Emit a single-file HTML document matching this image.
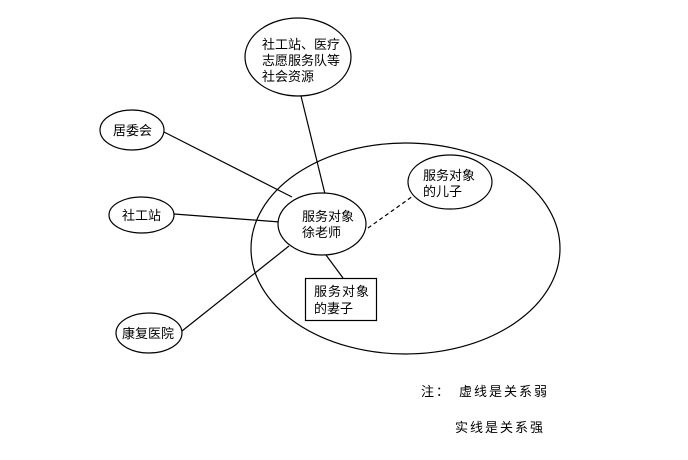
<!DOCTYPE html>
<html><head><meta charset="utf-8"><style>
html,body{margin:0;padding:0;background:#fff;}
svg text{font-family:"Liberation Sans","Noto Sans CJK SC",sans-serif;font-size:13px;fill:#000;}
</style></head><body>
<svg width="688" height="455" xmlns="http://www.w3.org/2000/svg">
<g fill="none" stroke="#000" stroke-width="1.2">
<ellipse cx="405.5" cy="248.5" rx="154.5" ry="105.5"/>
<ellipse cx="298" cy="57" rx="53" ry="39" fill="#fff"/>
<ellipse cx="132" cy="130" rx="32" ry="20" fill="#fff"/>
<ellipse cx="141.5" cy="215" rx="32.5" ry="18" fill="#fff"/>
<ellipse cx="149" cy="333" rx="33" ry="20" fill="#fff"/>
<line x1="164" y1="132" x2="292" y2="197"/>
<line x1="174" y1="214" x2="280" y2="222"/>
<line x1="182" y1="331" x2="289" y2="246"/>
<line x1="301" y1="96" x2="325" y2="194"/>
<line x1="326" y1="255" x2="343" y2="278"/>
<line x1="368" y1="228" x2="413" y2="196" stroke-dasharray="4,3"/>
<ellipse cx="322" cy="224" rx="44" ry="31" fill="#fff"/>
<ellipse cx="450" cy="182" rx="42" ry="27" fill="#fff"/>
<rect x="305.5" y="278.5" width="71" height="42" fill="#fff"/>
</g>
<text x="262" y="49">社工站、医疗</text>
<text x="262" y="65">志愿服务队等</text>
<text x="262" y="81">社会资源</text>
<text x="113" y="135">居委会</text>
<text x="122" y="220">社工站</text>
<text x="122" y="338">康复医院</text>
<text x="302" y="221">服务对象</text>
<text x="302" y="237">徐老师</text>
<text x="423" y="180">服务对象</text>
<text x="423" y="196">的儿子</text>
<text x="314" y="296" letter-spacing="1">服务对象</text>
<text x="314" y="313">的妻子</text>
<text x="421" y="396" letter-spacing="2">注：</text>
<text x="459" y="396" letter-spacing="2">虚线是关系弱</text>
<text x="455" y="432" letter-spacing="2">实线是关系强</text>
</svg>
</body></html>
